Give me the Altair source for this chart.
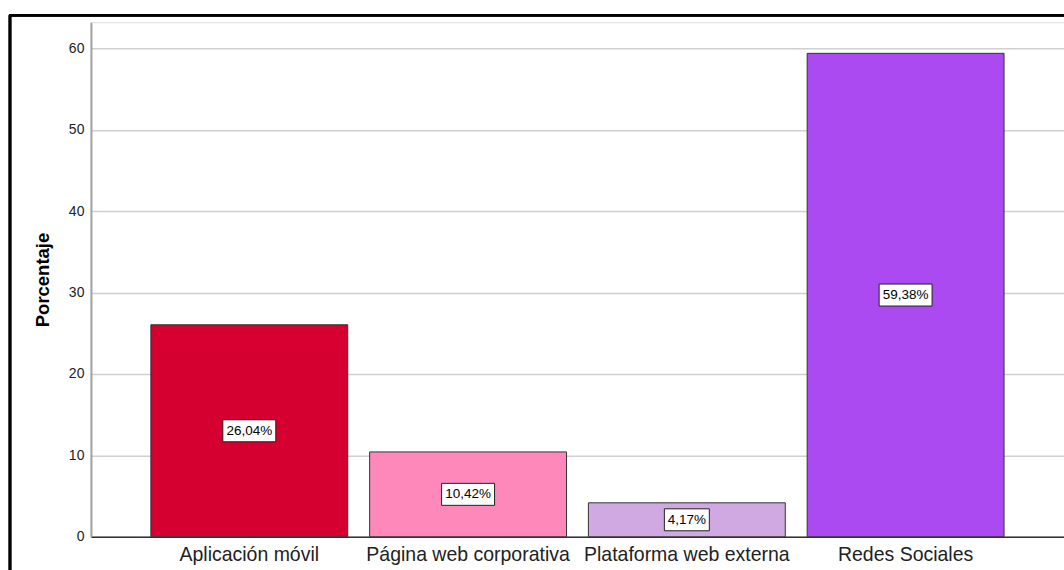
import altair as alt
import pandas as pd

# Data
categorias = ["Aplicación móvil", "Página web corporativa", "Plataforma web externa", "Redes Sociales"]
porcentajes = [26.04, 10.42, 4.17, 59.38]
colores = ["#d5002f", "#fe88b9", "#d0a8e2", "#aa4af0"]
etiquetas = ["26,04%", "10,42%", "4,17%", "59,38%"]
ticks_y = [0, 10, 20, 30, 40, 50, 60]

df = pd.DataFrame({
    "categoria": categorias,
    "porcentaje": porcentajes,
    "etiqueta": etiquetas,
})
df["mitad"] = df["porcentaje"] / 2

FONT = "Liberation Sans"
W, H = 974, 515
LABEL_FS = 13.5

x_enc = alt.X(
    "categoria:N",
    sort=categorias,
    title=None,
    scale=alt.Scale(paddingInner=0.1, paddingOuter=0.274),
    axis=alt.Axis(
        labelAngle=0,
        labelFontSize=19.5,
        labelColor="#222222",
        labelFont=FONT,
        labelPadding=9,
        labelLimit=0,
        labelOverlap=False,
        ticks=False,
        domainColor="#333333",
        domainWidth=1.5,
        grid=False,
    ),
)

y_scale = alt.Scale(domain=[0, 63.2], nice=False)

bars = alt.Chart(df).mark_bar(stroke="#333333", strokeWidth=1).encode(
    x=x_enc,
    y=alt.Y(
        "porcentaje:Q",
        scale=y_scale,
        title="Porcentaje",
        axis=alt.Axis(
            values=ticks_y,
            labelFontSize=14,
            labelColor="#222222",
            labelFont=FONT,
            labelPadding=7,
            ticks=False,
            domainColor="#a0a0a0",
            domainWidth=2,
            gridColor="#d0d0d0",
            gridWidth=1.5,
            titleFont=FONT,
            titleFontSize=18.5,
            titleFontWeight="bold",
            titleColor="#000000",
            titlePadding=16,
        ),
    ),
    color=alt.Color("categoria:N", scale=alt.Scale(domain=categorias, range=colores), legend=None),
)

# Approximate glyph advance widths (em) to size each label box around its text
ADV = {",": 0.278, "%": 0.889}


def text_width(s):
    return sum(ADV.get(c, 0.556) for c in s) * LABEL_FS


# White label boxes centred at half the bar height
boxes = []
for etq in etiquetas:
    boxes.append(
        alt.Chart(df).transform_filter(alt.datum.etiqueta == etq)
        .mark_rect(fill="white", stroke="#222222", strokeWidth=1,
                   width=round(text_width(etq) + 7), height=22)
        .encode(x=alt.X("categoria:N", sort=categorias), y=alt.Y("mitad:Q", scale=y_scale))
    )

texts = alt.Chart(df).mark_text(fontSize=LABEL_FS, font=FONT, color="#000000").encode(
    x=alt.X("categoria:N", sort=categorias),
    y=alt.Y("mitad:Q", scale=y_scale),
    text="etiqueta:N",
)

# Outer frame lines (left and top)
frame_left = alt.Chart(df).mark_rule(color="#000000", strokeWidth=2.5).encode(
    x=alt.value(-81), y=alt.value(-7), y2=alt.value(H + 40)
)
frame_top = alt.Chart(df).mark_rule(color="#000000", strokeWidth=2.5).encode(
    x=alt.value(-82), x2=alt.value(W + 20), y=alt.value(-7)
)

chart = alt.layer(bars, *boxes, texts, frame_left, frame_top).properties(
    width=W,
    height=H,
    autosize=alt.AutoSizeParams(type="none"),
    padding={"left": 91, "top": 22, "right": 0, "bottom": 33},
).configure_view(stroke=None).configure(background="white")

chart.save("out.html", embed_options={"renderer": "svg", "actions": False})
